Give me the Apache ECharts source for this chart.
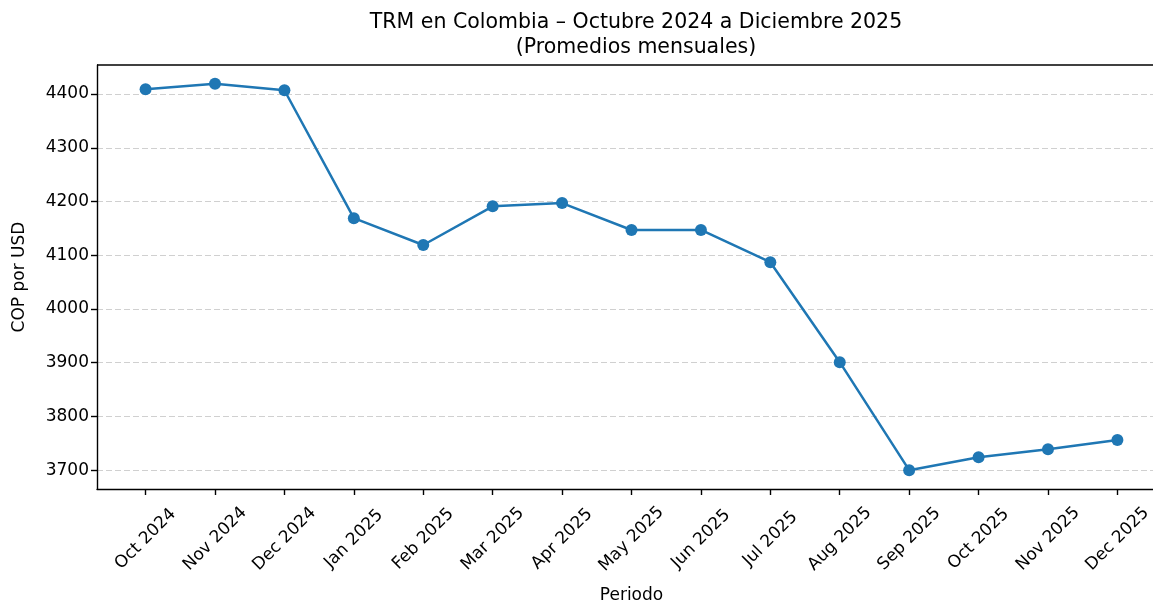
<!DOCTYPE html>
<html>
<head>
<meta charset="utf-8">
<script src="https://cdn.jsdelivr.net/npm/echarts@6/dist/echarts.min.js"></script>
<style>html,body{margin:0;padding:0;background:#fff}#c{width:1153px;height:604px}</style>
</head>
<body>
<div id="c"></div>
<script>
const categories = ['Oct 2024','Nov 2024','Dec 2024','Jan 2025','Feb 2025','Mar 2025','Apr 2025','May 2025','Jun 2025','Jul 2025','Aug 2025','Sep 2025','Oct 2025','Nov 2025','Dec 2025'];
const trmValues = [4409, 4419, 4407, 4169, 4119, 4191, 4197, 4147, 4147, 4087, 3901, 3700, 3724, 3739, 3756];
const yTicks = [3700, 3800, 3900, 4000, 4100, 4200, 4300, 4400];
const xTicks = categories.map((c, i) => i);

const FONT = 'DejaVu Sans';
const chart = echarts.init(document.getElementById('c'), null, {renderer: 'canvas'});
chart.setOption({
  animation: false,
  backgroundColor: '#fff',
  textStyle: {fontFamily: FONT},
  title: {
    text: 'TRM en Colombia – Octubre 2024 a Diciembre 2025\n(Promedios mensuales)',
    left: 631, top: 5, textAlign: 'center',
    textStyle: {fontFamily: FONT, fontSize: 20.5, fontWeight: 'normal', color: '#000', lineHeight: 25}
  },
  grid: {left: 97, top: 65, width: 1069, bottom: 115, containLabel: false, outerBoundsMode: 'none'},
  xAxis: {
    type: 'value', min: -0.7, max: 14.7,
    name: 'Periodo', nameLocation: 'middle', nameGap: 98,
    nameTextStyle: {fontFamily: FONT, fontSize: 17, color: '#000'},
    axisLine: {show: true, onZero: false, lineStyle: {color: '#000', width: 1.4}},
    axisTick: {show: true, length: 6, lineStyle: {color: '#000', width: 1.4}, customValues: xTicks},
    axisLabel: {
      customValues: xTicks, rotate: 45, margin: 50, align: 'center', verticalAlign: 'middle',
      fontFamily: FONT, fontSize: 17, color: '#000',
      formatter: v => categories[Math.round(v)]
    },
    splitLine: {show: false}
  },
  yAxis: {
    type: 'value', min: 3665, max: 4454,
    name: 'COP por USD', nameLocation: 'middle', nameGap: 69, nameRotate: 90,
    nameTextStyle: {fontFamily: FONT, fontSize: 17, color: '#000'},
    axisLine: {show: true, onZero: false, lineStyle: {color: '#000', width: 1.4}},
    axisTick: {show: true, length: 6, lineStyle: {color: '#000', width: 1.4}, customValues: yTicks},
    axisLabel: {customValues: yTicks, margin: 8, fontFamily: FONT, fontSize: 17, color: '#000',
      formatter: v => String(Math.round(v))},
    splitLine: {show: true, lineStyle: {color: '#d0d0d0', type: [6, 3], width: 1.2}}
  },
  series: [{
    type: 'line',
    data: trmValues.map((v, i) => [i, v]),
    symbol: 'circle', symbolSize: 12,
    itemStyle: {color: '#1f77b4'},
    lineStyle: {color: '#1f77b4', width: 2.5},
    z: 5
  }],
  graphic: [{
    type: 'line', shape: {x1: 97, y1: 65, x2: 1153, y2: 65},
    style: {stroke: '#000', lineWidth: 1.4}, z: 10
  }]
});
</script>
</body>
</html>
